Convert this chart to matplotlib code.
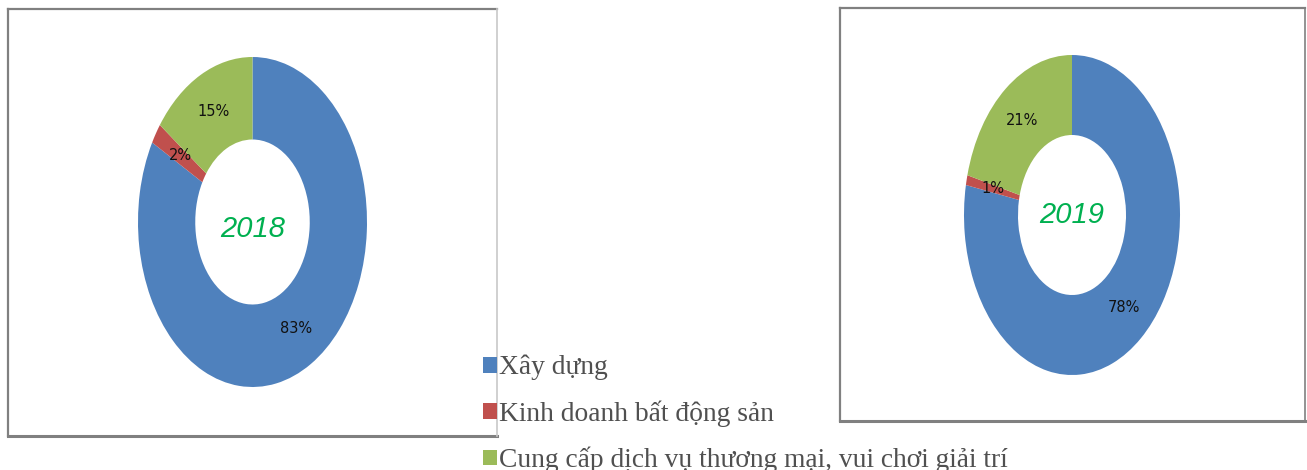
import matplotlib
matplotlib.use("Agg")
import matplotlib.pyplot as plt
from matplotlib.lines import Line2D

# Revenue structure by business line
categories = ["Xây dựng", "Kinh doanh bất động sản",
              "Cung cấp dịch vụ thương mại, vui chơi giải trí"]
years = ["2018", "2019"]
shares_2018 = [83, 2, 15]
shares_2019 = [78, 1, 21]
colors = ["#4F81BD", "#C0504D", "#9BBB59"]

W, H = 1307, 470
fig = plt.figure(figsize=(W / 100, H / 100), dpi=100)

# full-figure overlay in pixel coordinates for the frames
bg = fig.add_axes([0, 0, 1, 1])
bg.set_xlim(0, W)
bg.set_ylim(H, 0)
bg.axis("off")


def frame(x0, y0, x1, y1, light_right=True):
    dark = "#808080"
    light = "#c8c8c8"
    bg.add_line(Line2D([x0, x1], [y0, y0], color=dark, lw=1.6))
    bg.add_line(Line2D([x0, x0], [y0, y1], color=dark, lw=1.6))
    bg.add_line(Line2D([x0, x1], [y1, y1], color=dark, lw=2.2))
    bg.add_line(Line2D([x1, x1], [y0, y1], color=light if light_right else dark, lw=1.2))


frame(8, 9, 497, 436)
frame(840, 8, 1305, 421, light_right=False)

label_font = ["Liberation Sans Narrow", "DejaVu Sans Condensed", "DejaVu Sans"]


def donut(box, values, year, year_dy):
    x0, y0, x1, y1 = box
    ax = fig.add_axes([x0 / W, (H - y1) / H, (x1 - x0) / W, (y1 - y0) / H])
    wedges, texts, autotexts = ax.pie(
        values, colors=colors, startangle=90, counterclock=False,
        autopct="%.0f%%", pctdistance=0.75,
        wedgeprops=dict(width=0.5, linewidth=0),
        textprops=dict(fontsize=10.5, color="#111111", family=label_font),
    )
    ax.set_aspect("auto")
    ax.set_xlim(-1, 1)
    ax.set_ylim(-1, 1)
    ax.text(0, year_dy, year, ha="center", va="center", fontsize=21,
            style="italic", color="#00B050", family="Liberation Sans")
    return wedges


wedges = donut((138, 57, 367, 387), shares_2018, years[0], -0.04)
donut((964, 55, 1180, 375), shares_2019, years[1], 0.0)

fig.legend(wedges, categories, loc="upper left",
           bbox_to_anchor=(483 / W, 1 - 355 / H), frameon=False,
           prop=dict(family="Liberation Serif", size=19.8),
           labelcolor="#505050", handlelength=0.5, handleheight=0.5,
           handletextpad=0.08, labelspacing=0.72, borderpad=0, borderaxespad=0)

fig.savefig("out.png", dpi=100)
